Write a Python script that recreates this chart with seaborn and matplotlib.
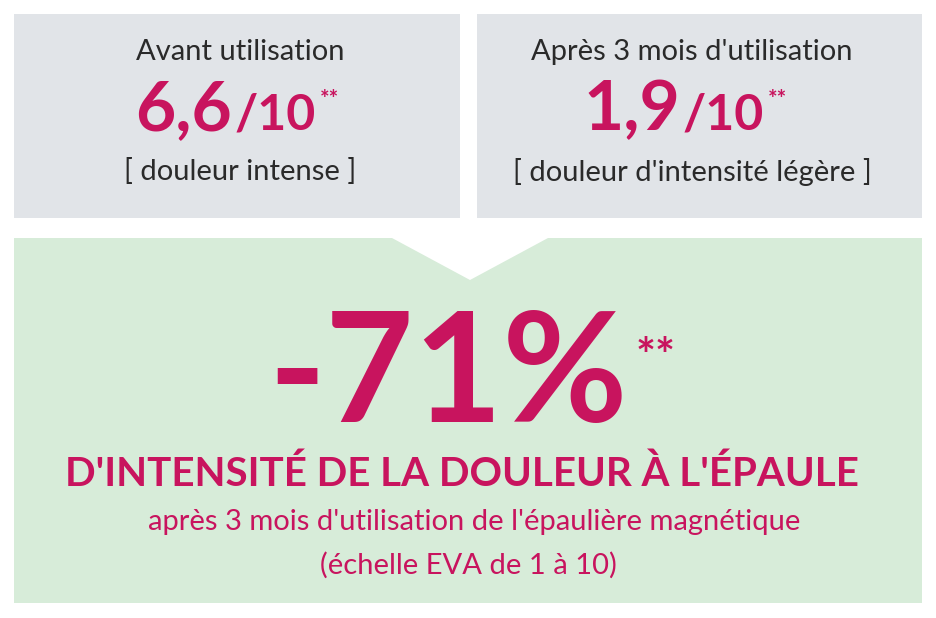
import matplotlib
matplotlib.use("Agg")
import matplotlib.pyplot as plt
import seaborn as sns
from matplotlib.patches import Rectangle, Polygon

labels = ["Avant utilisation", "Après 3 mois d'utilisation"]
scores = ["6,6", "1,9"]
descr = ["[ douleur intense ]", "[ douleur d'intensité légère ]"]
reduction = "-71%"
headline = "D'INTENSITÉ DE LA DOULEUR À L'ÉPAULE"
sub1 = "après 3 mois d'utilisation de l'épaulière magnétique"
sub2 = "(échelle EVA de 1 à 10)"

sns.set_theme(style="white", font="Lato")
PINK = "#c8145e"
GRAY = "#e1e4e8"
GREEN = "#d7ecd9"
TXT = "#2a2a2a"

fig = plt.figure(figsize=(9.36, 6.18), dpi=100)
ax = fig.add_axes([0, 0, 1, 1])
ax.set_xlim(0, 936); ax.set_ylim(618, 0); ax.axis("off")
fig.canvas.draw()
r = fig.canvas.get_renderer()

ax.add_patch(Rectangle((14, 14), 446, 204, color=GRAY, lw=0))
ax.add_patch(Rectangle((477, 14), 445, 204, color=GRAY, lw=0))
ax.add_patch(Polygon([(14, 238), (392, 238), (470, 280), (548, 238), (922, 238),
                      (922, 603), (14, 603)], closed=True, color=GREEN, lw=0))

for cx, lab, sc, d, split in [(240, labels[0], scores[0], descr[0], 232),
                              (692, labels[1], scores[1], descr[1], 680)]:
    ax.text(cx, 52, lab, ha="center", va="center", fontsize=21, color=TXT)
    ax.text(split, 130, sc, ha="right", va="baseline", fontsize=50, weight="bold", color=PINK)
    t = ax.text(split + 3, 130, "/10", ha="left", va="baseline", fontsize=36, weight="bold", color=PINK)
    bb = t.get_window_extent(r)
    ax.text(bb.x1 + 4, 106, "**", ha="left", va="baseline", fontsize=16, weight="bold", color=PINK)
    ax.text(cx, 172, d, ha="center", va="center", fontsize=21, color=TXT)

t = ax.text(448, 422, reduction, ha="center", va="baseline", fontsize=110, weight="bold", color=PINK)
bb = t.get_window_extent(r)
ax.text(bb.x1 + 8, 372, "**", ha="left", va="baseline", fontsize=34, weight="bold", color=PINK)
ax.text(462, 474, headline, ha="center", va="center", fontsize=29, weight="bold", color=PINK)
ax.text(474, 522, sub1, ha="center", va="center", fontsize=21, color=PINK)
ax.text(468, 565, sub2, ha="center", va="center", fontsize=21, color=PINK)

fig.savefig("out.png", dpi=100, facecolor="white")
